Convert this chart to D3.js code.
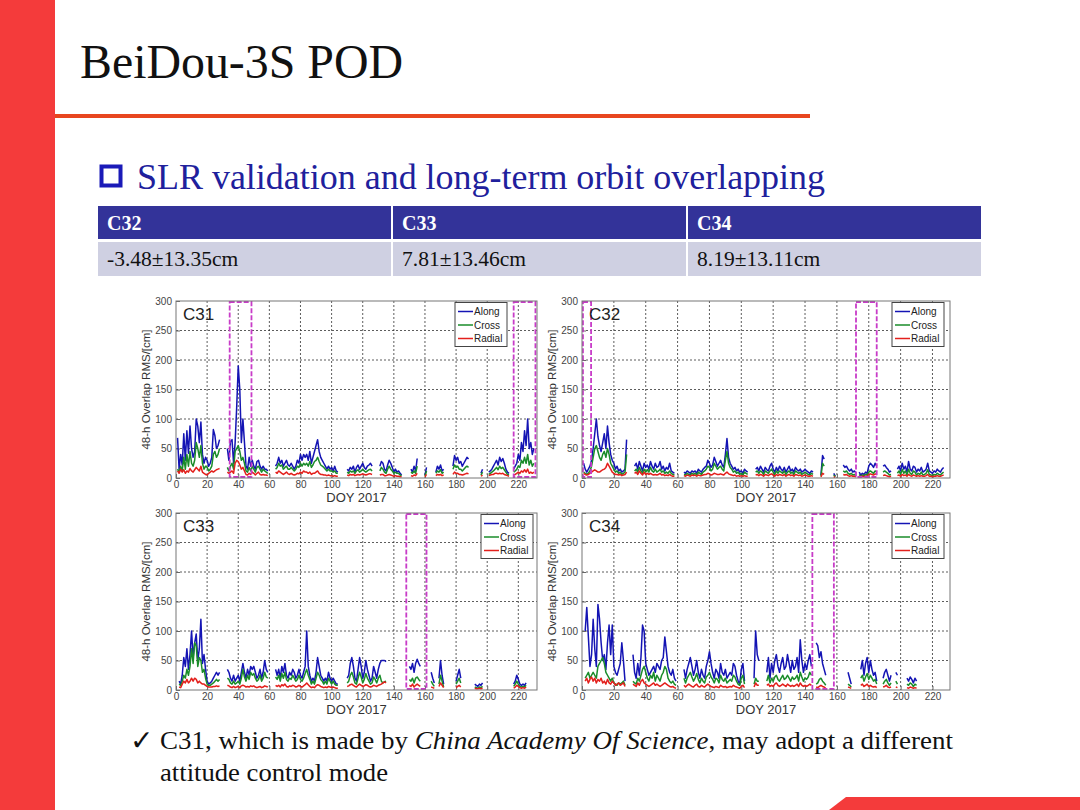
<!DOCTYPE html>
<html>
<head>
<meta charset="utf-8">
<script src="https://cdn.jsdelivr.net/npm/d3@7"></script>
<style>
  body { margin: 0; background: #fff; }
  svg { display: block; }
</style>
</head>
<body>
<div id="slide"></div>
<script>
// ---------------- data ----------------
// table under the subtitle
var tableHeads = ["C32", "C33", "C34"];
var tableVals  = ["-3.48\u00B113.35cm", "7.81\u00B113.46cm", "8.19\u00B113.11cm"];

var doyTicks = [0, 20, 40, 60, 80, 100, 120, 140, 160, 180, 200, 220];
var rmsTicks = [0, 50, 100, 150, 200, 250, 300];
var seriesNames = ["Along", "Cross", "Radial"];

// each panel: first DOY of every data segment, then the RMS values (cm) of each segment
var c31_start  = [1, 33, 64, 110, 131, 151, 160, 167, 178, 196, 201, 217];
var c31_along  = [
  [68,15,40,22,75,30,80,42,88,50,35,45,100,88,60,95,40,25,35,30,20,25,35,82,72,50,55,65],
  [50,30,62,65,25,60,120,190,150,60,100,60,20,15,35,20,30,20,15,28,30,20,15,20,15,15,12],
  [20,25,35,25,30,20,25,30,22,20,25,20,15,20,30,25,40,30,40,35,40,30,45,25,35,45,55,65,45,35,30,25,20,15,20,15,18,12,20,12,10],
  [15,12,18,15,20,10,18,22,15,20,25,18,15,20,22,25,20],
  [20,28,25,15,12,22,30,25,18,10,15,10,12,8,5],
  [15,10,20,12,33],
  [5,18],
  [10,20,15,22,12,15],
  [20,38,30,35,25,28,20,25,30,35,32],
  [8,15],
  [10,12,15,20,25,30,22,35,28,33,25,15,10,8],
  [15,20,25,40,30,60,45,80,55,100,50,60,40,50]
];
var c31_cross  = [
  [15,10,20,12,35,15,40,20,45,25,20,30,60,50,35,55,25,15,20,18,12,15,20,40,45,35,40,50],
  [18,12,20,25,15,45,50,55,45,30,35,25,12,10,18,12,20,15,10,18,20,15,10,15,12,10,8],
  [15,18,25,20,22,15,18,20,15,15,18,15,12,15,20,18,25,20,25,22,25,20,28,18,22,28,30,35,28,22,20,18,15,12,15,12,12,10,12,8,8],
  [10,8,12,10,12,8,12,14,10,12,15,12,10,12,14,15,12],
  [12,18,15,10,8,15,20,15,12,8,10,8,8,5,4],
  [10,8,12,8,20],
  [3,12],
  [8,12,10,14,8,10],
  [15,22,18,20,15,15,12,15,18,20,18],
  [5,10],
  [6,8,10,12,15,18,14,20,16,18,14,10,6,5],
  [10,12,15,20,18,30,25,35,25,40,22,30,20,25]
];
var c31_radial = [
  [12,8,15,10,14,8,12,10,16,12,10,14,18,15,12,20,10,8,6,5,8,10,12,10,12,14,15,16],
  [10,8,10,12,8,25,30,28,22,15,18,12,6,5,8,6,10,8,5,8,10,6,5,6,5,5,4],
  [10,8,12,10,8,6,8,10,7,6,8,6,5,6,8,7,10,8,12,10,10,8,10,6,8,8,10,12,8,6,6,5,5,4,5,4,4,3,4,3,3],
  [5,4,6,5,6,4,5,6,5,6,7,6,5,6,7,7,6],
  [5,6,6,4,4,5,6,5,4,3,4,3,3,2,2],
  [4,3,5,4,8],
  [2,6],
  [4,6,5,6,4,5],
  [6,10,8,8,6,6,5,6,7,8,7],
  [3,5],
  [4,5,6,6,8,8,7,8,7,8,6,5,4,3],
  [5,6,8,10,8,12,10,14,10,15,8,10,8,10]
];
var c31_boxes  = [[34.5, 48.5], [217, 231]];

var c32_start  = [1, 33, 64, 109, 150, 158, 164, 174, 189, 198];
var c32_along  = [
  [25,15,10,15,20,30,50,75,100,70,55,45,60,75,50,88,60,40,30,25,15,20,12,15,10,12,15,65],
  [20,25,15,28,20,12,25,18,22,15,28,20,15,25,18,20,28,15,20,12,18,15,25,12,10,8],
  [10,8,12,10,8,12,10,12,8,15,12,10,15,18,20,30,25,18,22,35,28,20,25,30,22,18,40,67,35,25,20,15,18,12,15,10,12,8,15,12,10],
  [15,18,12,20,15,10,18,14,12,20,25,15,10,18,12,20,15,12,18,10,15,20,12,15,10,18,14,12,15,10,12,15,12,10,8,12,10],
  [5,38,32],
  [8,3],
  [22,18,20,15,12,15,10,12,8],
  [10,5,8,6,10,8,20,25,22,18,25,20],
  [20,22,18,15,10,12],
  [15,20,12,25,15,20,10,28,15,12,20,18,10,15,12,18,10,12,15,25,12,10,8,12,10,15,12,10,15,18]
];
var c32_cross  = [
  [10,8,6,8,12,20,35,50,55,45,35,30,40,45,35,50,40,25,20,15,10,12,8,10,6,8,10,40],
  [12,15,10,18,12,8,15,10,14,10,18,12,10,15,10,12,15,10,12,8,10,8,12,8,6,5],
  [6,5,8,6,5,8,6,8,5,10,8,6,10,12,15,20,18,12,15,25,20,15,18,20,15,12,30,45,25,18,15,10,12,8,10,6,8,5,10,8,6],
  [10,12,8,12,10,6,12,10,8,12,15,10,6,12,8,12,10,8,12,6,10,12,8,10,6,12,10,8,10,6,8,10,8,6,5,8,6],
  [3,25,20],
  [5,2],
  [12,10,12,8,6,8,5,6,4],
  [6,3,5,4,6,5,10,12,10,8,12,10],
  [10,12,10,8,5,6],
  [8,12,6,15,8,12,5,15,8,6,12,10,5,8,6,10,5,6,8,14,6,5,4,6,5,8,6,5,8,10]
];
var c32_radial = [
  [8,6,5,6,8,10,12,14,12,10,10,12,14,15,18,25,20,15,10,8,6,6,5,6,4,5,6,10],
  [8,10,6,12,8,5,10,6,8,6,8,6,5,6,5,6,8,5,6,4,5,4,6,4,3,3],
  [4,3,5,4,3,5,4,5,3,5,4,4,5,6,6,8,7,5,6,8,7,6,6,7,6,5,8,10,7,6,5,4,5,3,4,3,4,3,4,3,3],
  [5,6,4,6,5,3,6,5,4,6,7,5,3,6,4,6,5,4,6,3,5,6,4,5,3,6,5,4,5,3,4,5,4,3,3,4,3],
  [2,8,6],
  [2,1],
  [6,5,6,4,3,4,3,3,2],
  [3,2,3,2,3,3,6,7,6,5,7,6],
  [4,5,4,3,2,3],
  [4,5,3,6,4,5,3,6,4,3,5,4,3,4,3,4,3,3,4,6,3,3,2,3,3,4,3,3,4,5]
];
var c32_boxes  = [[0.6, 5.7], [172, 185]];

var c33_start  = [2, 33, 64, 110, 150, 164, 169, 180, 192, 217];
var c33_along  = [
  [15,10,25,55,40,70,35,60,100,55,80,95,50,70,120,45,60,35,15,10,12,15,20,25,30,25,30],
  [35,30,20,15,25,15,20,25,15,30,45,30,20,35,25,40,35,40,30,20,25,35,20,30,50,35,30],
  [35,25,35,20,40,30,45,25,20,30,25,35,30,20,25,35,25,20,30,40,100,40,25,15,20,15,30,55,40,25,20,15,20,15,30,20,15,20,15,10,10],
  [20,25,45,55,40,20,15,35,55,40,20,30,50,35,25,15,20,40,30,20,35,45,50,50,50,48],
  [40,35,45,30,45,52,45,40],
  [30,20,12],
  [20,50,25,10],
  [15,25,35,20],
  [10,8,6,10,8,12],
  [10,15,25,18,10,8,10,8,12]
];
var c33_cross  = [
  [10,8,15,25,20,35,25,40,70,45,80,75,40,55,50,30,35,20,10,8,8,10,12,15,18,15,18],
  [20,18,12,10,15,10,12,15,10,20,35,22,15,25,18,30,25,28,20,15,18,25,15,20,30,22,20],
  [22,18,25,15,28,20,30,18,15,20,18,25,20,15,18,25,18,15,20,28,35,25,18,10,15,10,20,30,25,18,15,10,15,10,20,15,10,15,10,8,8],
  [12,15,25,30,22,12,10,20,30,22,12,18,28,20,15,10,12,22,18,12,20,25,15,12,14,15],
  [18,15,20,12,20,22,18,15],
  [15,10,6],
  [10,25,15,5],
  [10,15,20,12],
  [5,4,3,5,4,6],
  [6,10,15,10,6,5,6,5,8]
];
var c33_radial = [
  [5,4,10,15,12,18,12,15,20,15,20,18,12,15,12,10,10,8,6,5,5,5,6,6,7,6,7],
  [8,7,5,4,6,4,5,6,4,7,8,7,5,6,5,7,6,7,5,4,5,6,4,5,7,6,5],
  [8,6,8,5,9,7,10,6,5,7,6,8,7,5,6,8,6,5,7,9,12,9,6,4,5,4,7,9,8,6,5,4,5,4,6,5,4,5,4,3,3],
  [6,7,9,10,8,6,5,8,10,8,6,7,9,8,6,5,6,8,7,6,8,9,10,12,14,12],
  [8,6,10,5,8,10,8,6],
  [5,4,3],
  [6,12,8,4],
  [4,6,8,5],
  [3,2,2,3,2,3],
  [3,5,8,6,4,3,4,3,5]
];
var c33_boxes  = [[148, 161]];

var c34_start  = [2, 32, 64, 108, 116, 147, 167, 175, 189, 197, 204];
var c34_along  = [
  [100,140,90,40,60,120,70,40,145,120,80,50,60,35,80,110,60,110,40,30,25,35,45,80,50,15],
  [60,30,20,45,25,55,110,100,45,35,25,30,35,40,30,45,40,35,50,55,90,65,40,30,25,35,20,15],
  [35,20,35,45,55,40,25,35,50,30,20,35,25,20,40,50,65,45,30,20,35,30,20,45,30,25,35,20,25,30,25,45,40,25,15,10,35,45,15],
  [20,100,60,50],
  [30,55,20,45,30,50,60,40,30,45,55,35,40,60,45,30,50,35,40,55,30,85,50,30,45,35,50,60,40],
  [80,75,55,65,45,35,25],
  [30,20,10],
  [35,50,25,45,55,30,50,35,25,30,15],
  [20,30,35,25,15,25],
  [30,25],
  [20,15,22,18,12,20,15]
];
var c34_cross  = [
  [20,25,30,20,25,30,25,20,40,45,50,55,45,30,25,20,15,20,12,10,8,12,10,12,15,8],
  [15,12,10,20,15,25,35,40,30,20,15,25,20,30,15,25,20,15,25,30,40,35,20,15,12,15,10,8],
  [20,12,20,25,30,22,15,20,28,18,12,20,15,12,22,25,30,22,18,12,20,18,12,25,18,15,20,12,15,18,15,25,22,15,10,8,20,25,10],
  [10,20,15,15],
  [15,25,12,20,15,22,25,18,15,20,25,18,20,25,20,15,22,18,20,25,15,30,22,15,20,18,22,30,25],
  [10,12,18,20,15,12,8],
  [10,8,5],
  [20,25,15,22,28,18,25,20,15,18,10],
  [10,15,18,12,8,12],
  [15,10],
  [10,8,12,10,6,10,8]
];
var c34_radial = [
  [15,20,12,18,22,15,20,12,18,15,20,12,15,10,18,12,10,15,12,8,10,12,8,10,12,6],
  [10,8,6,12,8,15,18,12,10,8,6,8,10,12,8,10,8,6,8,10,12,10,8,6,5,6,4,3],
  [8,5,8,10,8,6,5,8,10,6,5,8,6,5,8,10,8,6,5,4,6,5,4,8,6,5,6,4,5,6,5,8,6,5,4,3,6,8,4],
  [5,12,8,8],
  [8,10,6,8,6,10,12,8,6,8,10,8,6,10,8,6,8,6,8,10,6,12,8,6,8,6,8,10,8],
  [5,4,6,8,6,5,3],
  [5,4,3],
  [8,10,6,8,10,6,8,6,5,6,4],
  [5,6,8,5,4,5],
  [5,4],
  [4,3,5,4,3,4,3]
];
var c34_boxes  = [[144.6, 158.1]];

// ---------------- layout ----------------
var serif = "'Liberation Serif', 'Times New Roman', serif";
var sans  = "'Liberation Sans', Arial, sans-serif";
var red   = "#f43b3b";
var seriesColors = ["#1414b4", "#1a8c2a", "#e3201c"];

var panels = [
  {name: "C31", start: c31_start, data: [c31_along, c31_cross, c31_radial], boxes: c31_boxes,
   x: 176, y: 301, w: 361, xmax: 232, legendGap: 30},
  {name: "C32", start: c32_start, data: [c32_along, c32_cross, c32_radial], boxes: c32_boxes,
   x: 582, y: 301, w: 368, xmax: 231, legendGap: 6},
  {name: "C33", start: c33_start, data: [c33_along, c33_cross, c33_radial], boxes: c33_boxes,
   x: 176, y: 513, w: 361, xmax: 232, legendGap: 4},
  {name: "C34", start: c34_start, data: [c34_along, c34_cross, c34_radial], boxes: c34_boxes,
   x: 582, y: 513, w: 368, xmax: 231, legendGap: 6}
];
var panelH = 177;

var svg = d3.select("#slide")
  .append("svg")
  .attr("width", 1080)
  .attr("height", 810);

svg.append("rect").attr("width", 1080).attr("height", 810).attr("fill", "#fff");

// slide decoration
svg.append("rect").attr("x", 0).attr("y", 0).attr("width", 55).attr("height", 810).attr("fill", red);
svg.append("path").attr("d", "M829,810 L846,797 L1080,797 L1080,810 Z").attr("fill", red);

svg.append("text").attr("x", 80).attr("y", 78)
  .attr("textLength", 323).attr("lengthAdjust", "spacingAndGlyphs")
  .style("font-family", serif).style("font-size", "48px").attr("fill", "#111")
  .text("BeiDou-3S POD");
svg.append("line").attr("x1", 55).attr("x2", 810).attr("y1", 116).attr("y2", 116)
  .attr("stroke", "#e8461f").attr("stroke-width", 4);

// subtitle with hollow square bullet
svg.append("rect").attr("x", 101.5).attr("y", 166.5).attr("width", 19).attr("height", 19)
  .attr("fill", "none").attr("stroke", "#1a1ab8").attr("stroke-width", 4);
svg.append("text").attr("x", 137).attr("y", 189)
  .attr("textLength", 688).attr("lengthAdjust", "spacingAndGlyphs")
  .style("font-family", serif).style("font-size", "35px").attr("fill", "#20209c")
  .text("SLR validation and long-term orbit overlapping");

// SLR table
var colW = 295;
tableHeads.forEach(function(h, i) {
  var cx = 98 + i * colW;
  svg.append("rect").attr("x", cx).attr("y", 206).attr("width", colW - 2).attr("height", 33).attr("fill", "#333399");
  svg.append("rect").attr("x", cx).attr("y", 242).attr("width", colW - 2).attr("height", 34).attr("fill", "#cfd0e2");
  svg.append("text").attr("x", cx + 9).attr("y", 230)
    .style("font-family", serif).style("font-size", "20px").style("font-weight", "bold")
    .attr("fill", "#fff").text(h);
  svg.append("text").attr("x", cx + 9).attr("y", 266)
    .style("font-family", serif).style("font-size", "21.5px")
    .attr("fill", "#111").text(tableVals[i]);
});

// ---------------- the four overlap panels ----------------
function toPoints(start, vals) {
  return vals.map(function(v, j) { return {doy: start + j, v: v}; });
}

panels.forEach(function(p, pi) {
  var x = d3.scaleLinear().domain([0, p.xmax]).range([0, p.w]);
  var y = d3.scaleLinear().domain([0, 300]).range([panelH, 0]);
  var g = svg.append("g").attr("transform", "translate(" + p.x + "," + p.y + ")");

  g.append("rect").attr("width", p.w).attr("height", panelH).attr("fill", "#fff");

  // dotted grid
  g.selectAll(".gx").data(doyTicks.slice(1)).enter().append("line")
    .attr("x1", function(d) { return x(d); }).attr("x2", function(d) { return x(d); })
    .attr("y1", 0).attr("y2", panelH)
    .attr("stroke", "#333").attr("stroke-width", 0.8).style("stroke-dasharray", "2,2");
  g.selectAll(".gy").data(rmsTicks.slice(1, -1)).enter().append("line")
    .attr("x1", 0).attr("x2", p.w)
    .attr("y1", function(d) { return y(d); }).attr("y2", function(d) { return y(d); })
    .attr("stroke", "#333").attr("stroke-width", 0.8).style("stroke-dasharray", "2,2");

  // axes, ticks pointing inwards like matlab
  var xa = g.append("g").attr("transform", "translate(0," + panelH + ")")
    .call(d3.axisBottom(x).tickValues(doyTicks).tickSizeInner(-4).tickSizeOuter(0).tickPadding(3));
  var ya = g.append("g")
    .call(d3.axisLeft(y).tickValues(rmsTicks).tickSizeInner(-4).tickSizeOuter(0).tickPadding(4));
  [xa, ya].forEach(function(a) {
    a.select(".domain").remove();
    a.selectAll("line").attr("stroke", "#666");
    a.selectAll("text").style("font-family", sans).style("font-size", "10px").attr("fill", "#444");
  });

  // series
  var clipId = "clip" + pi;
  g.append("clipPath").attr("id", clipId).append("rect").attr("width", p.w).attr("height", panelH);
  var line = d3.line()
    .x(function(d) { return x(d.doy); })
    .y(function(d) { return y(d.v); });
  var plot = g.append("g").attr("clip-path", "url(#" + clipId + ")");
  p.data.forEach(function(series, si) {
    series.forEach(function(vals, k) {
      plot.append("path")
        .attr("d", line(toPoints(p.start[k], vals)))
        .attr("fill", "none")
        .attr("stroke", seriesColors[si])
        .attr("stroke-width", 1.5)
        .attr("stroke-linejoin", "round");
    });
  });

  // magenta dashed windows
  g.selectAll(".box").data(p.boxes).enter().append("rect")
    .attr("x", function(d) { return x(d[0]); })
    .attr("width", function(d) { return x(d[1]) - x(d[0]); })
    .attr("y", y(300) + 1).attr("height", y(0) - y(300) - 2)
    .attr("fill", "none").attr("stroke", "#c83cc8").attr("stroke-width", 1.8)
    .style("stroke-dasharray", "5,2");

  // frame
  g.append("rect").attr("width", p.w).attr("height", panelH)
    .attr("fill", "none").attr("stroke", "#777").attr("stroke-width", 1);

  // panel name
  g.append("text").attr("x", 7).attr("y", 19)
    .style("font-family", sans).style("font-size", "17px").attr("fill", "#222").text(p.name);

  // legend
  var lx = p.w - p.legendGap - 52, ly = 1.5;
  var lg = g.append("g").attr("transform", "translate(" + lx + "," + ly + ")");
  lg.append("rect").attr("width", 52).attr("height", 44)
    .attr("fill", "#fff").attr("stroke", "#444").attr("stroke-width", 1);
  seriesNames.forEach(function(n, i) {
    lg.append("line").attr("x1", 3).attr("x2", 18).attr("y1", 9 + i * 13.5).attr("y2", 9 + i * 13.5)
      .attr("stroke", seriesColors[i]).attr("stroke-width", 1.5);
    lg.append("text").attr("x", 19).attr("y", 12.5 + i * 13.5)
      .style("font-family", sans).style("font-size", "10px").attr("fill", "#222").text(n);
  });

  // axis labels
  g.append("text").attr("x", p.w / 2).attr("y", panelH + 24)
    .attr("text-anchor", "middle")
    .style("font-family", sans).style("font-size", "13px").attr("fill", "#333").text("DOY 2017");
  g.append("text")
    .attr("transform", "translate(-26," + (panelH / 2) + ") rotate(-90)")
    .attr("text-anchor", "middle")
    .style("font-family", sans).style("font-size", "11.5px").attr("fill", "#333")
    .text("48-h Overlap RMS/[cm]");
});

// ---------------- conclusion ----------------
svg.append("text").attr("x", 130).attr("y", 750)
  .style("font-family", "'DejaVu Sans', sans-serif").style("font-size", "28px").attr("fill", "#111")
  .text("\u2713");
var note = svg.append("text").attr("x", 160).attr("y", 749)
  .attr("textLength", 793).attr("lengthAdjust", "spacingAndGlyphs")
  .style("font-family", serif).style("font-size", "26px").attr("fill", "#111");
note.append("tspan").text("C31, which is made by ");
note.append("tspan").style("font-style", "italic").text("China Academy Of Science");
note.append("tspan").text(", may adopt a different");
svg.append("text").attr("x", 160).attr("y", 781)
  .attr("textLength", 228).attr("lengthAdjust", "spacingAndGlyphs")
  .style("font-family", serif).style("font-size", "26px").attr("fill", "#111")
  .text("attitude control mode");
</script>
</body>
</html>
